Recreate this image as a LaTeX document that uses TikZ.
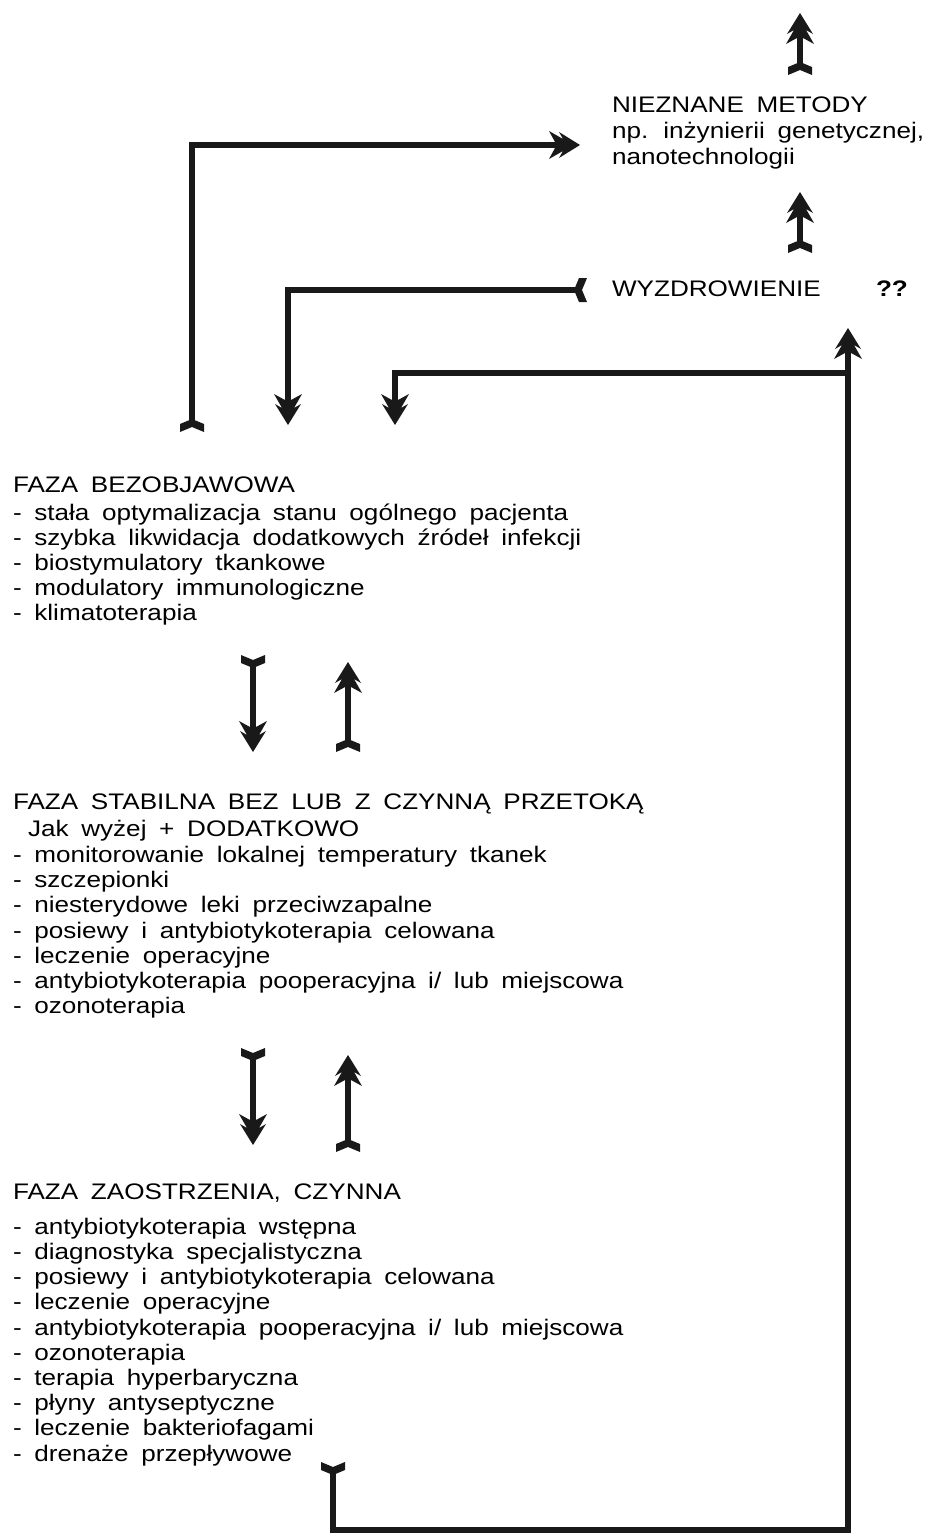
\documentclass[tikz,border=0pt]{standalone}
\usepackage{fontspec}
\setmainfont{Liberation Sans}[FakeStretch=1.16,WordSpace=1.75]
\usetikzlibrary{arrows.meta}

\pgfdeclarearrow{
  name=Feather,
  setup code={
    \pgfarrowssettipend{0pt}
    \pgfarrowssetlineend{-22pt}
    \pgfarrowssetbackend{-31pt}
    \pgfarrowshullpoint{0pt}{0pt}
    \pgfarrowshullpoint{-31pt}{14pt}
    \pgfarrowshullpoint{-31pt}{-14pt}
  },
  drawing code={
    \pgfpathmoveto{\pgfqpoint{0pt}{0pt}}
    \pgfpathlineto{\pgfqpoint{-21pt}{13pt}}
    \pgfpathlineto{\pgfqpoint{-17pt}{6pt}}
    \pgfpathlineto{\pgfqpoint{-31pt}{14pt}}
    \pgfpathlineto{\pgfqpoint{-25pt}{3pt}}
    \pgfpathlineto{\pgfqpoint{-25pt}{-3pt}}
    \pgfpathlineto{\pgfqpoint{-31pt}{-14pt}}
    \pgfpathlineto{\pgfqpoint{-17pt}{-6pt}}
    \pgfpathlineto{\pgfqpoint{-21pt}{-13pt}}
    \pgfpathclose
    \pgfusepathqfill
  }
}
\pgfdeclarearrow{
  name=Nock,
  setup code={
    \pgfarrowssettipend{0pt}
    \pgfarrowssetlineend{-8pt}
    \pgfarrowssetbackend{-13pt}
    \pgfarrowshullpoint{0pt}{12pt}
    \pgfarrowshullpoint{0pt}{-12pt}
    \pgfarrowshullpoint{-13pt}{0pt}
  },
  drawing code={
    \pgfpathmoveto{\pgfqpoint{-13pt}{0pt}}
    \pgfpathlineto{\pgfqpoint{-8pt}{12pt}}
    \pgfpathlineto{\pgfqpoint{0pt}{12pt}}
    \pgfpathlineto{\pgfqpoint{-5pt}{0pt}}
    \pgfpathlineto{\pgfqpoint{0pt}{-12pt}}
    \pgfpathlineto{\pgfqpoint{-8pt}{-12pt}}
    \pgfpathclose
    \pgfusepathqfill
  }
}
\newcommand\rowL[1]{\hbox{\strut #1}}

\begin{document}
\begin{tikzpicture}[x=1pt,y=-1pt,
  txt/.style={anchor=base west,inner sep=0pt,outer sep=0pt,font=\fontsize{22.5}{25}\selectfont},
  conn/.style={line width=5.5pt,line join=miter,color=black!90},
  fullarrow/.style={conn,{Nock}-{Feather}},
  headonly/.style={conn,-{Feather}}]
\useasboundingbox (0,0) rectangle (924,1533);

% text blocks
\node[txt] (nm) at (612,113) {\vtop{\baselineskip=24.5pt
  \rowL{NIEZNANE METODY}
  \rowL{np. inżynierii genetycznej,}
  \rowL{nanotechnologii}}};
\node[txt] (wy) at (612,296) {WYZDROWIENIE};
\node[txt,font=\fontsize{22.5}{25}\selectfont\bfseries] (qq) at (876,296) {??};

\node[txt] (fb) at (13,492) {\vtop{\baselineskip=25pt
  \rowL{FAZA BEZOBJAWOWA}
  \vskip3pt
  \rowL{- stała optymalizacja stanu ogólnego pacjenta}
  \rowL{- szybka likwidacja dodatkowych źródeł infekcji}
  \rowL{- biostymulatory tkankowe}
  \rowL{- modulatory immunologiczne}
  \rowL{- klimatoterapia}}};

\node[txt] (fs) at (13,809) {\vtop{\baselineskip=25.2pt
  \rowL{FAZA STABILNA BEZ LUB Z CZYNNĄ PRZETOKĄ}
  \vskip2pt
  \rowL{\hspace*{15pt}Jak wyżej + DODATKOWO}
  \vskip1pt
  \rowL{- monitorowanie lokalnej temperatury tkanek}
  \rowL{- szczepionki}
  \rowL{- niesterydowe leki przeciwzapalne}
  \rowL{- posiewy i antybiotykoterapia celowana}
  \rowL{- leczenie operacyjne}
  \rowL{- antybiotykoterapia pooperacyjna i/ lub miejscowa}
  \rowL{- ozonoterapia}}};

\node[txt] (fz) at (13,1199) {\vtop{\baselineskip=25.2pt
  \rowL{FAZA ZAOSTRZENIA, CZYNNA}
  \vskip10pt
  \rowL{- antybiotykoterapia wstępna}
  \rowL{- diagnostyka specjalistyczna}
  \rowL{- posiewy i antybiotykoterapia celowana}
  \rowL{- leczenie operacyjne}
  \rowL{- antybiotykoterapia pooperacyjna i/ lub miejscowa}
  \rowL{- ozonoterapia}
  \rowL{- terapia hyperbaryczna}
  \rowL{- płyny antyseptyczne}
  \rowL{- leczenie bakteriofagami}
  \rowL{- drenaże przepływowe}}};

% connector end points
\coordinate (a1s) at (800,75);   \coordinate (a1e) at (800,13);
\coordinate (a2s) at (192,432);  \coordinate (a2e) at (580,145);
\coordinate (a3s) at (800,253);  \coordinate (a3e) at (800,192);
\coordinate (a4s) at (587,290);  \coordinate (a4e) at (288,425);
\coordinate (a5s) at (333,1462); \coordinate (a5b) at (333,1530);
\coordinate (a5c) at (848,1530); \coordinate (a5e) at (848,328);
\coordinate (a6s) at (848,373);  \coordinate (a6e) at (395,425);
\coordinate (b1s) at (253,655);  \coordinate (b1e) at (253,752);
\coordinate (b2s) at (348,752);  \coordinate (b2e) at (348,662);
\coordinate (c1s) at (253,1048); \coordinate (c1e) at (253,1145);
\coordinate (c2s) at (348,1152); \coordinate (c2e) at (348,1055);

% connectors
\draw[fullarrow] (a1s) -- (a1e);
\draw[fullarrow] (a2s) |- (a2e);
\draw[fullarrow] (a3s) -- (a3e);
\draw[fullarrow] (a4s) -| (a4e);
\draw[fullarrow] (a5s) -- (a5b) -- (a5c) -- (a5e);
\draw[headonly] (a6s) -| (a6e);
\draw[fullarrow] (b1s) -- (b1e);
\draw[fullarrow] (b2s) -- (b2e);
\draw[fullarrow] (c1s) -- (c1e);
\draw[fullarrow] (c2s) -- (c2e);
\end{tikzpicture}
\end{document}
